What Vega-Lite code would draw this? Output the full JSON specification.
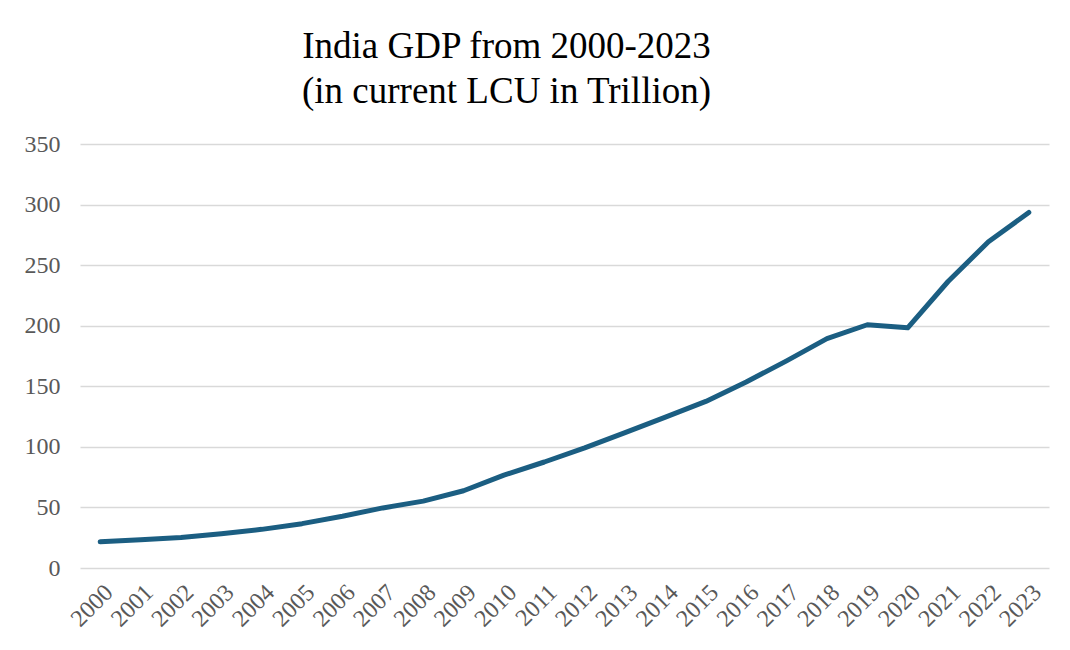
{
  "$schema": "https://vega.github.io/schema/vega-lite/v6.json",
  "autosize": {"type": "none"},
  "padding": {"left": 80, "top": 144, "right": 21, "bottom": 82},
  "width": 969,
  "height": 424,
  "background": "white",
  "title": {
    "text": ["India GDP from 2000-2023", "(in current LCU in Trillion)"],
    "font": "Liberation Serif",
    "fontSize": 37,
    "fontWeight": "normal",
    "color": "#000000",
    "lineHeight": 45,
    "anchor": "middle",
    "dx": -58,
    "offset": 21
  },
  "data": {
    "values": [
      {"year": "2000", "gdp": 21.6},
      {"year": "2001", "gdp": 23.4},
      {"year": "2002", "gdp": 25.1},
      {"year": "2003", "gdp": 28.3},
      {"year": "2004", "gdp": 31.9},
      {"year": "2005", "gdp": 36.6},
      {"year": "2006", "gdp": 42.7},
      {"year": "2007", "gdp": 49.6},
      {"year": "2008", "gdp": 55.2},
      {"year": "2009", "gdp": 63.8},
      {"year": "2010", "gdp": 76.7},
      {"year": "2011", "gdp": 87.5},
      {"year": "2012", "gdp": 99.2},
      {"year": "2013", "gdp": 111.8},
      {"year": "2014", "gdp": 124.6},
      {"year": "2015", "gdp": 137.5},
      {"year": "2016", "gdp": 153.5},
      {"year": "2017", "gdp": 171.0},
      {"year": "2018", "gdp": 189.3},
      {"year": "2019", "gdp": 200.8},
      {"year": "2020", "gdp": 198.3},
      {"year": "2021", "gdp": 236.5},
      {"year": "2022", "gdp": 269.3},
      {"year": "2023", "gdp": 293.5}
    ]
  },
  "mark": {"type": "line", "color": "#1b5e82", "strokeWidth": 5, "strokeCap": "round", "strokeJoin": "round"},
  "encoding": {
    "x": {
      "field": "year",
      "type": "ordinal",
      "scale": {"type": "point", "padding": 0.5},
      "axis": {
        "title": null,
        "labelAngle": -45,
        "labelFont": "Liberation Serif",
        "labelFontSize": 24,
        "labelColor": "#595959",
        "labelPadding": 12,
        "ticks": false,
        "domain": false,
        "grid": false
      }
    },
    "y": {
      "field": "gdp",
      "type": "quantitative",
      "scale": {"domain": [0, 350], "nice": false},
      "axis": {
        "title": null,
        "values": [0, 50, 100, 150, 200, 250, 300, 350],
        "labelFont": "Liberation Serif",
        "labelFontSize": 24,
        "labelColor": "#595959",
        "labelPadding": 20,
        "ticks": false,
        "domain": false,
        "grid": true,
        "gridColor": "#d9d9d9",
        "gridWidth": 1.5
      }
    }
  },
  "config": {"view": {"stroke": null}}
}
